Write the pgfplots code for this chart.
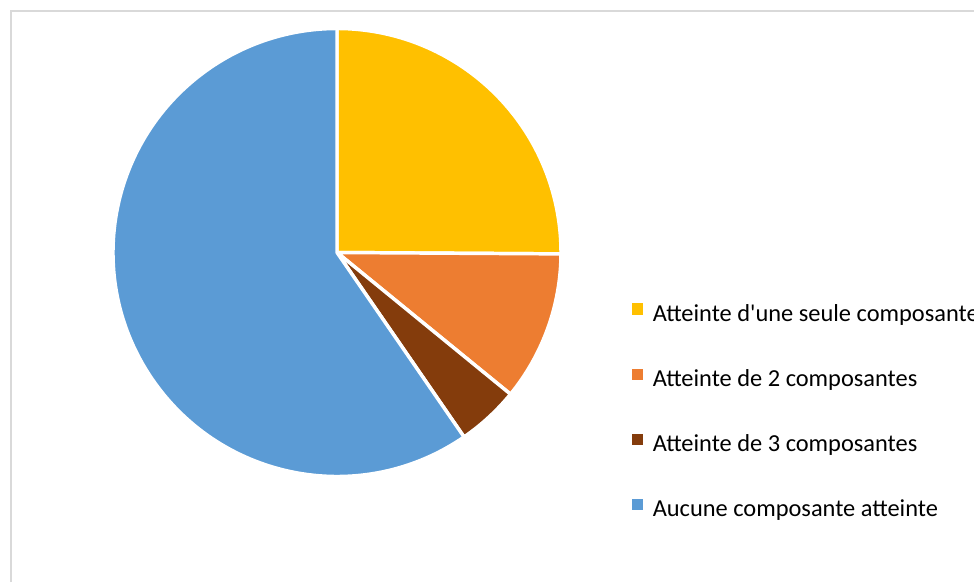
\documentclass[border=0pt]{standalone}
\usepackage{pgfplots}
\pgfplotsset{compat=1.18}
\usepackage{fontspec}
\setmainfont{Carlito}
\definecolor{cyellow}{HTML}{FFC000}
\definecolor{corange}{HTML}{ED7D31}
\definecolor{cbrown}{HTML}{843C0C}
\definecolor{cblue}{HTML}{5B9BD5}
\definecolor{cframe}{HTML}{D9D9D9}
\begin{document}
\begin{tikzpicture}
\useasboundingbox (0,0) rectangle (730.5pt,436.5pt);
\clip (0,0) rectangle (730.5pt,436.5pt);
\begin{axis}[
  at={(0,0)}, anchor=south west,
  scale only axis, width=730.5pt, height=436.5pt,
  xmin=0, xmax=974, ymin=0, ymax=582,
  hide axis, clip=false,
  legend cell align=left,
  legend image code/.code={\fill[#1, draw=none] (0pt,1.1pt) rectangle (8.25pt,9.4pt);},
  legend style={draw=none, fill=none, font=\fontsize{18.3}{21}\selectfont,
    at={(axis cs:627.5,281.5)}, anchor=north west,
    row sep=31.4pt, column sep=7.5pt,
    nodes={inner sep=0pt, text height=12pt, text depth=4pt}},
]
\draw[cframe, line width=1.5pt] (axis cs:10.5,0) -- (axis cs:10.5,571) -- (axis cs:974,571);
\def\cum{0}
\foreach \v/\c in {25.1/cyellow, 10.8/corange, 4.5/cbrown, 59.6/cblue}{
  \pgfmathsetmacro{\a}{90-3.6*\cum}
  \pgfmathsetmacro{\b}{90-3.6*(\cum+\v)}
  \edef\temp{\noexpand\filldraw[fill=\c, draw=white, line width=2.6pt, line join=round]
    (axis cs:337,329.5) -- ++(\a:168pt) arc[start angle=\a, end angle=\b, radius=168pt] -- cycle;}
  \temp
  \pgfmathsetmacro{\n}{\cum+\v}
  \xdef\cum{\n}
}
\addlegendimage{fill=cyellow}
\addlegendentry{Atteinte d\textquotesingle une seule composante}
\addlegendimage{fill=corange}
\addlegendentry{Atteinte de 2 composantes}
\addlegendimage{fill=cbrown}
\addlegendentry{Atteinte de 3 composantes}
\addlegendimage{fill=cblue}
\addlegendentry{Aucune composante atteinte}
\end{axis}
\end{tikzpicture}
\end{document}
